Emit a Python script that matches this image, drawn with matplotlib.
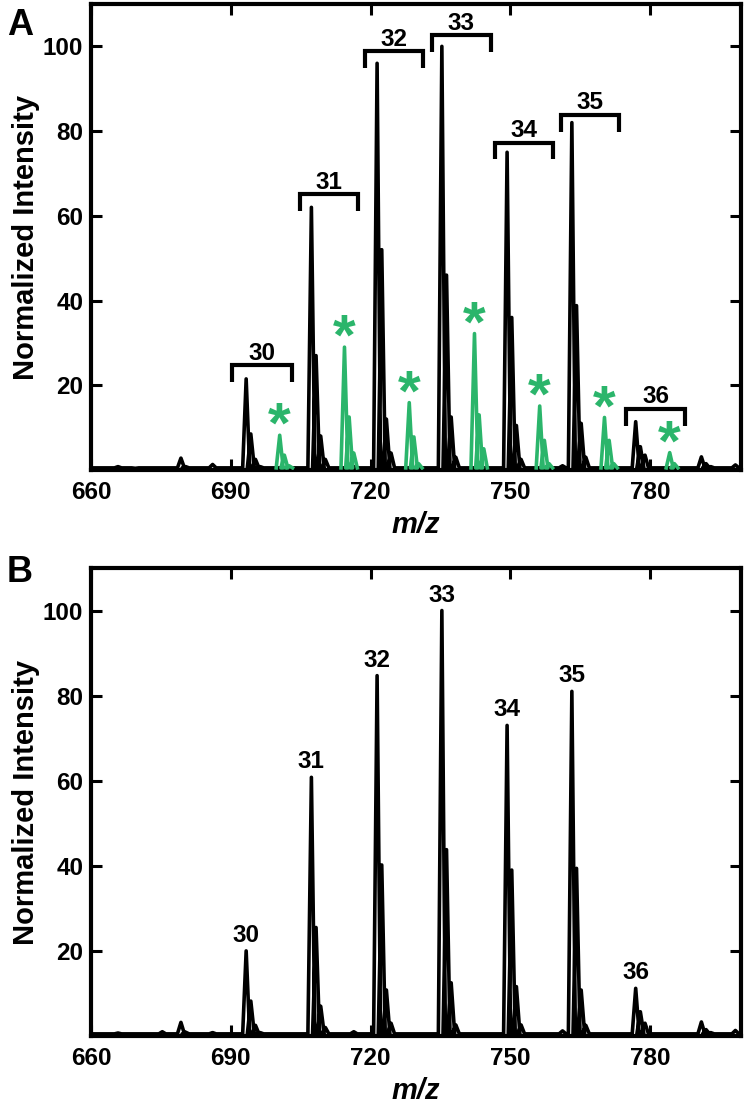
import numpy as np
import matplotlib
matplotlib.use("Agg")
import matplotlib.pyplot as plt

plt.rcParams['font.family'] = ['Liberation Sans', 'DejaVu Sans']
plt.rcParams['font.weight'] = 'bold'
plt.rcParams['axes.labelweight'] = 'bold'

# peak list of the black trace (m/z), shared by both panels
mz_black = [665.8, 669.5, 675.3, 679.3, 680.3, 686.1,
            693.3, 694.3, 695.3, 696.3,
            707.3, 708.3, 709.3, 710.3,
            716.4,
            721.4, 722.4, 723.4, 724.4,
            735.3, 736.3, 737.3, 738.3,
            749.3, 750.3, 751.3, 752.3,
            761.2,
            763.2, 764.2, 765.2, 766.2,
            776.9, 777.9, 778.9,
            791.0, 792.0, 793.0, 798.3]

# intensities, panel A
int_a = [0.8, 0.4, 0.5, 2.8, 0.8, 1.3,
         21.5, 8.5, 2.5, 0.8,
         62.0, 27.0, 8.0, 2.5,
         0.8,
         96.0, 52.0, 12.0, 4.0,
         100.0, 46.0, 12.5, 3.0,
         75.0, 36.0, 10.5, 2.5,
         1.0,
         82.0, 38.8, 11.0, 3.0,
         11.4, 5.5, 3.5,
         3.1, 1.5, 0.8, 1.2]

# intensities, panel B
int_b = [0.7, 0.5, 1.0, 3.2, 0.9, 0.8,
         20.0, 8.2, 2.5, 0.8,
         60.8, 25.5, 7.0, 2.0,
         1.0,
         84.7, 40.2, 10.8, 3.0,
         100.0, 43.8, 12.5, 2.6,
         73.0, 39.0, 11.6, 2.6,
         1.2,
         81.0, 39.4, 10.8, 2.5,
         11.2, 5.7, 3.0,
         3.3, 1.5, 0.8, 1.3]

# green (starred) peaks in panel A
mz_green = [700.5, 701.5, 702.5,
            714.4, 715.4, 716.4,
            728.3, 729.3, 730.3,
            742.3, 743.3, 744.3,
            756.3, 757.3, 758.3,
            770.2, 771.2, 772.2,
            784.2, 785.2]
int_green = [8.2, 3.5, 1.0,
             29.0, 12.5, 4.0,
             15.9, 7.8, 1.5,
             32.2, 13.0, 5.0,
             15.1, 7.0, 1.5,
             12.4, 7.0, 1.5,
             4.1, 1.5]

# brackets in panel A
br_labels = ['30', '31', '32', '33', '34', '35', '36']
br_left = [690.3, 704.8, 718.7, 733.1, 746.7, 760.9, 774.8]
br_right = [703.2, 717.4, 731.2, 745.8, 759.1, 773.3, 787.5]
br_top = [24.7, 65.2, 98.8, 102.7, 77.3, 83.9, 14.5]

# peak labels in panel B
pk_labels = ['30', '31', '32', '33', '34', '35', '36']
pk_mz = [693.3, 707.3, 721.4, 735.3, 749.3, 763.2, 776.9]
pk_int = [20.0, 60.8, 84.7, 100.0, 73.0, 81.0, 11.2]

GREEN = '#2bb56b'
XMIN, XMAX = 660, 799.5
BASE = 0.5
HW = 0.75


def trace(mz, h, start=None, end=None):
    pts = sorted(zip(mz, h))
    xs, ys = [], []
    if start is not None:
        xs.append(start)
        ys.append(BASE)
    prev = None
    for m, v in pts:
        if start is None and prev is not None and m - prev > 1.5:
            xs.append(np.nan)
            ys.append(np.nan)
        xs += [m - HW, m, m + HW]
        ys += [BASE, v, BASE]
        prev = m
    if end is not None:
        xs.append(end)
        ys.append(BASE)
    return xs, ys


def style_axes(ax):
    ax.set_xlim(XMIN, XMAX)
    ax.set_ylim(0, 110)
    ax.set_xticks([660, 690, 720, 750, 780])
    ax.set_yticks([20, 40, 60, 80, 100])
    for s in ax.spines.values():
        s.set_linewidth(3)
    ax.tick_params(direction='in', length=8, width=2.2, top=True, right=True,
                   labelsize=17.5)
    ax.tick_params(axis='x', pad=8)
    ax.tick_params(axis='y', pad=5.5)
    ax.set_xlabel('m/z', fontsize=21, fontstyle='italic', labelpad=5)
    ax.set_ylabel('Normalized Intensity', fontsize=21, labelpad=2)


fig = plt.figure(figsize=(7.47, 11.09), dpi=100)
axA = fig.add_axes([91/747, 1-470/1109, 650/747, 466/1109])
axB = fig.add_axes([91/747, 1-1036/1109, 650/747, 468/1109])

# panel A
x, y = trace(mz_black, int_a, XMIN, XMAX)
axA.plot(x, y, color='black', lw=2.6, zorder=2)
x, y = trace(mz_green, int_green)
axA.plot(x, y, color=GREEN, lw=2.6, zorder=3)

# asterisks above the main green peak of each cluster
clusters = []
for m, v in zip(mz_green, int_green):
    if clusters and m - clusters[-1][-1][0] < 1.5:
        clusters[-1].append((m, v))
    else:
        clusters.append([(m, v)])
for c in clusters:
    m, v = max(c, key=lambda p: p[1])
    axA.text(m, v - 1.8, '*', color=GREEN, fontsize=42, ha='center',
             va='baseline', zorder=4)

for lab, l, r, t in zip(br_labels, br_left, br_right, br_top):
    axA.plot([l, l, r, r], [t - 4, t, t, t - 4], color='black', lw=3,
             solid_joinstyle='miter', solid_capstyle='butt', zorder=4)
    axA.text((l + r) / 2, t + 1.2, lab, ha='center', va='baseline',
             fontsize=17.5, zorder=4)
style_axes(axA)

# panel B
x, y = trace(mz_black, int_b, XMIN, XMAX)
axB.plot(x, y, color='black', lw=2.6, zorder=2)
for lab, m, v in zip(pk_labels, pk_mz, pk_int):
    axB.text(m, v + 2.1, lab, ha='center', va='baseline', fontsize=17.5)
style_axes(axB)

fig.text(7/747, 1-35/1109, 'A', fontsize=26, ha='left', va='baseline')
fig.text(7/747, 1-582/1109, 'B', fontsize=26, ha='left', va='baseline')

fig.savefig('out.png', dpi=100)
